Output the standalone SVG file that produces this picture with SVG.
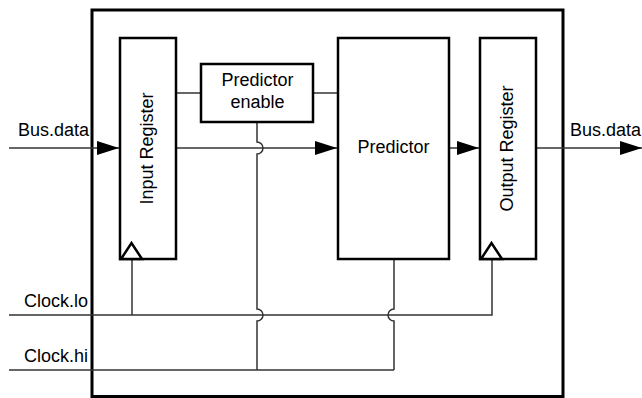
<svg xmlns="http://www.w3.org/2000/svg" width="642" height="398" viewBox="0 0 642 398">
<style>
text{font-family:"Liberation Sans",Arial,sans-serif;font-size:18px;fill:#000}
.box{fill:#fff;stroke:#000;stroke-width:2.5}
.outer{fill:#fff;stroke:#000;stroke-width:3}
.conn{fill:none;stroke:#333;stroke-width:1.5}
.clk{fill:#fff;stroke:#000;stroke-width:2.5;stroke-linejoin:miter}
</style>
<defs>
<marker id="arr" viewBox="0 0 22 14" refX="22" refY="7" markerWidth="22" markerHeight="14" markerUnits="userSpaceOnUse" orient="auto">
<path d="M0,0 L22,7 L0,14 z" fill="#000"/>
</marker>
</defs>
<rect class="outer" x="92" y="10" width="471" height="386.5"/>
<g id="connectors">
<path class="conn" d="M9,148 H119" marker-end="url(#arr)"/>
<path class="conn" d="M176,148 H337" marker-end="url(#arr)"/>
<path class="conn" d="M449,148 H479" marker-end="url(#arr)"/>
<path class="conn" d="M536,148 H642" marker-end="url(#arr)"/>
<path class="conn" d="M176,93 H201"/>
<path class="conn" d="M313,93 H338"/>
<path class="conn" d="M257,122 V142 A6,6 0 0 1 257,154 V309 A6,6 0 0 1 257,321 V370"/>
<path class="conn" d="M394,259 V309 A6,6 0 0 0 394,321 V370"/>
<path class="conn" d="M9,315 H492 V259"/>
<path class="conn" d="M132,315 V259"/>
<path class="conn" d="M9,370 H394"/>
</g>
<g id="input-register">
<rect class="box" x="120" y="38" width="56" height="221"/>
<polygon class="clk" points="121,259 131.5,243 142,259"/>
<text transform="translate(153,148.5) rotate(-90)" text-anchor="middle">Input Register</text>
</g>
<g id="predictor-enable">
<rect class="box" x="201" y="64" width="112" height="58"/>
<text x="257.5" y="86" text-anchor="middle">Predictor</text>
<text x="257.5" y="108" text-anchor="middle">enable</text>
</g>
<g id="predictor">
<rect class="box" x="338" y="38" width="111" height="221"/>
<text x="393.5" y="152.5" text-anchor="middle">Predictor</text>
</g>
<g id="output-register">
<rect class="box" x="480" y="38" width="56" height="221"/>
<polygon class="clk" points="481,259 491.5,243 502,259"/>
<text transform="translate(513,148.5) rotate(-90)" text-anchor="middle">Output Register</text>
</g>
<g id="labels">
<text x="89" y="136" text-anchor="end">Bus.data</text>
<text x="570" y="136">Bus.data</text>
<text x="88" y="307" text-anchor="end">Clock.lo</text>
<text x="88" y="362" text-anchor="end">Clock.hi</text>
</g>
</svg>
